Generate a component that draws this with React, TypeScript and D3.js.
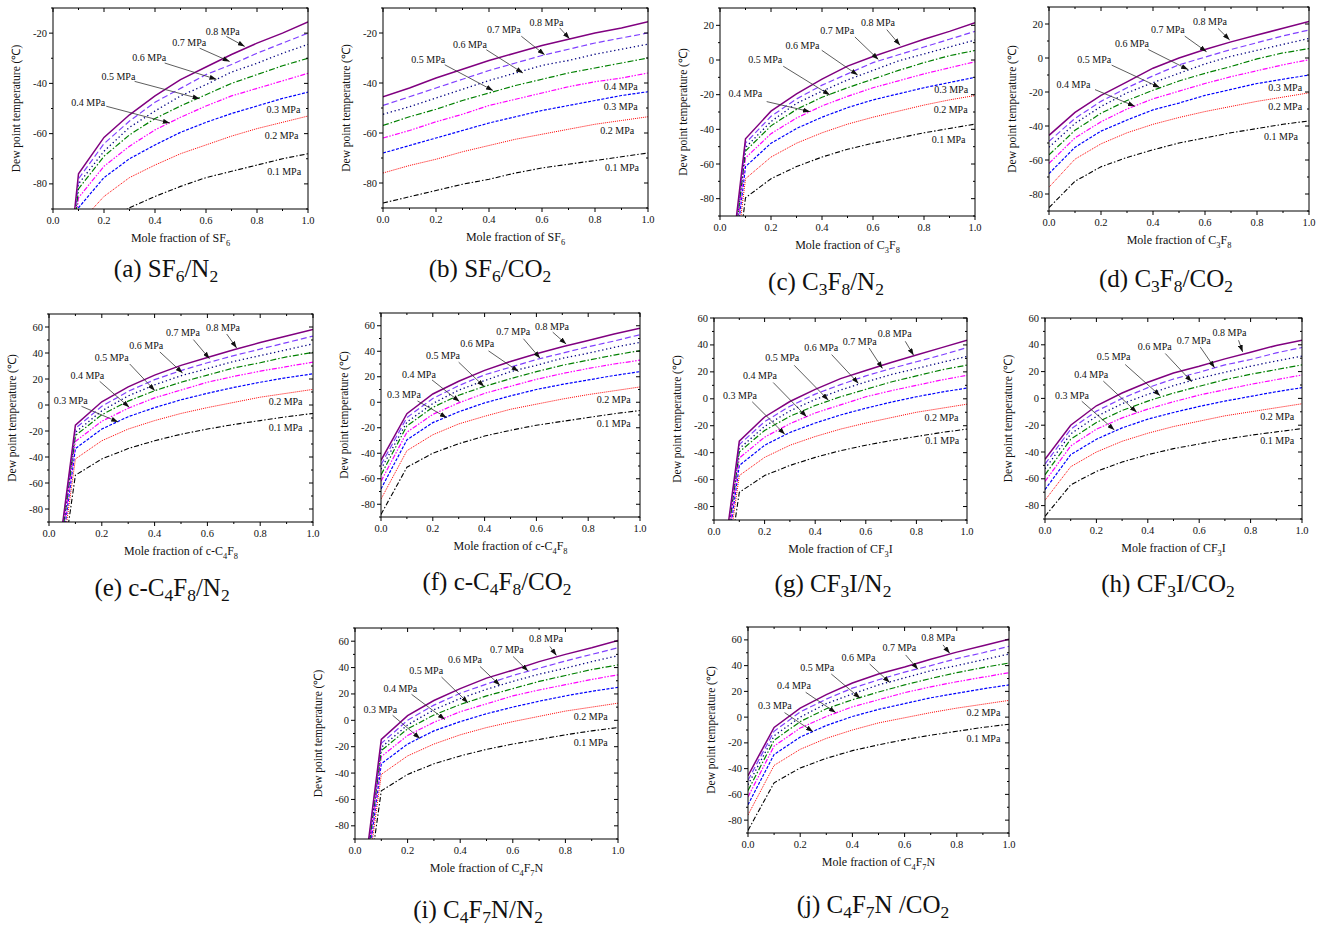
import React from "react";
import * as d3 from "d3";

// mole fraction of the insulating gas (x axis), same grid for every panel
const moleFraction = [0, 0.1, 0.2, 0.3, 0.4, 0.5, 0.6, 0.7, 0.8, 0.9, 1.0];
const pressures = ["0.1", "0.2", "0.3", "0.4", "0.5", "0.6", "0.7", "0.8"];

// dew point temperature (°C), one row per pressure 0.1 ... 0.8 MPa
const sf6N2 = [
  [-196, -105.5, -96, -89.5, -85, -81, -77.5, -75, -72.5, -70, -68],
  [-189, -96, -85, -77.5, -72.5, -68, -64.5, -61, -58, -55.5, -53],
  [-184, -89.5, -77.5, -70, -64.5, -59.5, -55.5, -52, -49, -46, -43.5],
  [-181, -85.5, -73, -65, -58.5, -53.5, -49, -45, -42, -39, -36],
  [-178, -82, -69, -60.5, -54, -49, -44.5, -40, -36.5, -33, -30],
  [-176, -80, -67, -57.5, -51, -45, -40.5, -35.5, -32, -28, -24.5],
  [-174, -78, -64, -55, -47.5, -42, -36.5, -32.5, -28, -24, -20],
  [-172, -76, -61.5, -52.5, -45, -38.5, -33.5, -28.5, -24, -20, -15.5],
];
const sf6CO2 = [
  [-88, -85.5, -83, -80.5, -78.5, -76, -74, -72.5, -71, -69.5, -68],
  [-76, -73, -70.5, -67.5, -65, -62.5, -60.5, -58.5, -56.5, -55, -53.5],
  [-68, -65, -62, -59, -56, -53.5, -51, -49, -47, -45, -43.5],
  [-62, -59, -55.5, -52.5, -49, -46.5, -44, -41.5, -39.5, -38, -36],
  [-57, -53.5, -50.5, -47, -44, -41, -38.5, -36, -34, -32, -30],
  [-52.5, -49.5, -46, -42.5, -39, -36, -33, -31, -28.5, -26.5, -24.5],
  [-49, -45.5, -42, -38.5, -35, -32, -29, -26.5, -24, -22, -20],
  [-45.5, -42, -38, -34.5, -31, -28, -25, -22.5, -20, -18, -15.5],
];
const c3f8N2 = [
  [-196, -79.5, -68.5, -61.5, -56, -51.5, -48, -45, -42, -39.5, -37],
  [-189, -68.5, -56, -48, -42, -37, -33, -29.5, -26, -23, -20.5],
  [-184, -61.5, -48, -39.5, -33, -27.5, -23, -19.5, -16, -13, -10],
  [-181, -56.5, -42.5, -33.5, -26.5, -21, -16, -12, -8, -4.5, -1],
  [-178, -52.5, -38, -28.5, -21.5, -16, -11, -6, -1.5, 2.5, 5.5],
  [-176, -50.5, -35.5, -25, -18, -11.5, -6, -0.5, 3.5, 7.5, 11.5],
  [-174, -48, -32.5, -22.5, -14.5, -8, -1.5, 3, 7.5, 12, 16.5],
  [-172, -45.5, -29.5, -19.5, -11, -3.5, 2, 7, 12, 16.5, 21.5],
];
const c3f8CO2 = [
  [-88, -72.5, -64, -58.5, -54, -50, -47, -44, -41.5, -39, -37],
  [-76, -59.5, -50.5, -44, -39, -35, -31.5, -28.5, -25.5, -23, -20.5],
  [-68, -52.5, -43, -36.5, -30.5, -26.5, -22, -18.5, -15, -12.5, -10],
  [-62, -47, -37.5, -30, -24, -19.5, -15, -11, -7.5, -4, -1],
  [-57, -42.5, -32.5, -25, -19, -13.5, -9, -5, -0.5, 3, 5.5],
  [-52.5, -38.5, -28.5, -20.5, -14.5, -9, -3.5, 1, 4.5, 8, 11.5],
  [-49, -35.5, -25.5, -17.5, -10.5, -4, 0.5, 5, 9, 13, 16.5],
  [-45.5, -32, -22, -14, -6, 0, 5, 9.5, 13.5, 17.5, 21.5],
];
const c4f8N2 = [
  [-196, -54, -41.5, -33.5, -27.5, -22.5, -18.5, -15, -12, -9, -6.5],
  [-189, -41.5, -27.5, -18.5, -12, -6.5, -2, 2, 6, 9, 12],
  [-184, -33.5, -18.5, -9, -2, 4, 9, 13.5, 17.5, 21, 24],
  [-181, -28, -12.5, -2.5, 5.5, 11.5, 17.5, 22, 26, 29.5, 33],
  [-178, -23.5, -7.5, 3, 11, 17.5, 23, 28.5, 32.5, 37, 40.5],
  [-176, -21, -4.5, 7, 15.5, 22.5, 28, 33.5, 38, 42.5, 47],
  [-174, -18, -1, 10.5, 19.5, 26.5, 32.5, 38, 43, 48, 53],
  [-172, -15.5, 2.5, 14, 23, 30.5, 36.5, 42.5, 48, 53, 58],
];
const c4f8CO2 = [
  [-88, -51, -40, -32.5, -26.5, -22, -18, -15, -12, -9, -6.5],
  [-76, -38, -25.5, -17, -11, -5.5, -1.5, 2.5, 6, 9, 12],
  [-68, -29.5, -16, -7.5, -0.5, 5, 10, 14, 17.5, 21, 24],
  [-62, -23.5, -9.5, -0.5, 7, 12.5, 18, 22.5, 26.5, 30, 33],
  [-57, -18.5, -4, 5.5, 12.5, 18.5, 24, 29, 33, 37, 40.5],
  [-52.5, -15.5, -1, 9.5, 17, 24, 29, 34.5, 38.5, 43, 47],
  [-49, -12, 3, 13, 21.5, 27.5, 33.5, 38.5, 43.5, 48, 53],
  [-45.5, -9, 6.5, 16.5, 25, 32, 38, 43.5, 48.5, 53.5, 58],
];
const cf3iN2 = [
  [-196, -69.5, -57, -49.5, -43.5, -38.5, -34.5, -31, -28, -25, -22.5],
  [-189, -57, -43.5, -34.5, -28, -22.5, -18, -14, -10, -7, -4],
  [-184, -49.5, -34.5, -25, -18, -12, -7, -2.5, 1.5, 5, 8],
  [-181, -44, -28.5, -18.5, -10.5, -4.5, 1.5, 6, 10, 14, 17.5],
  [-178, -39.5, -23.5, -13, -5, 1.5, 7, 12.5, 17, 21.5, 25],
  [-176, -37, -20.5, -9, -0.5, 6.5, 12.5, 18, 22.5, 27, 31.5],
  [-174, -34, -17, -5.5, 3.5, 10.5, 17, 22.5, 27.5, 32.5, 38],
  [-172, -31.5, -13.5, -2, 7, 15, 21, 27, 32.5, 38, 43.5],
];
const cf3iCO2 = [
  [-88, -64.5, -54.5, -47.5, -42, -37.5, -34, -30.5, -27.5, -25, -22.5],
  [-76, -51, -40, -32, -26, -21, -17, -13, -10, -7, -4],
  [-68, -42, -30.5, -22, -15.5, -10.5, -6, -2, 1.5, 5, 8],
  [-62, -35.5, -23, -14.5, -8, -2.5, 2.5, 6.5, 10.5, 14, 17.5],
  [-57, -30.5, -18, -9, -2, 4, 9, 14, 18, 21.5, 25],
  [-52.5, -26.5, -13.5, -4, 3, 9.5, 15, 19.5, 24, 28, 31.5],
  [-49, -23, -9.5, 0, 8, 14.5, 19.5, 25, 29, 34, 38],
  [-45.5, -20, -5.5, 4, 12, 19, 24, 29.5, 34.5, 39.5, 43.5],
];
const c4f7nN2 = [
  [-196, -53.5, -41, -33, -27, -22, -18, -14.5, -11, -8, -5.5],
  [-189, -41, -27, -18, -11, -5.5, -1, 3, 7, 10, 13],
  [-184, -33, -18, -8, -1, 5, 10, 14.5, 18.5, 22, 25],
  [-181, -27.5, -11.5, -1.5, 6.5, 12.5, 18.5, 23, 27, 31, 34.5],
  [-178, -23, -6.5, 4, 12, 18.5, 24, 29.5, 34, 38.5, 42],
  [-176, -20.5, -3.5, 8, 16.5, 23.5, 29.5, 35, 39.5, 44.5, 49],
  [-174, -17.5, 0, 11.5, 20.5, 27.5, 34, 39.5, 45, 50, 55],
  [-172, -14.5, 3.5, 15, 24, 32, 38, 44.5, 50, 55, 60.5],
];
const c4f7nCO2 = [
  [-88, -51, -39.5, -32, -26, -21.5, -17.5, -14, -11, -8, -5.5],
  [-76, -37.5, -25, -16.5, -10, -4.5, -0.5, 3.5, 7, 10, 13],
  [-68, -29, -15.5, -6.5, 0.5, 6, 10.5, 15, 18.5, 22, 25],
  [-62, -22.5, -8.5, 0.5, 8, 13.5, 19, 23.5, 27.5, 31, 34.5],
  [-57, -18, -3.5, 6.5, 13.5, 19.5, 25, 30, 34.5, 38.5, 42],
  [-52.5, -14.5, 0, 10.5, 18, 25, 30.5, 36, 40, 44.5, 49],
  [-49, -11, 4, 14, 22.5, 29, 35, 40, 45.5, 50, 55],
  [-45.5, -8, 7, 17.5, 26.5, 33.5, 39, 45, 50.5, 55.5, 60.5],
];

// curve labels: [pressure index, text x, text y, arrow tail x, tail y, tip x, tip y] in data units
type Lab = number[];
const labA: Lab[] = [
  [7, 0.599, -20.7, 0.68, -21.3, 0.752, -25.3], [6, 0.468, -25.3, 0.575, -26, 0.693, -31.3],
  [5, 0.311, -31, 0.438, -31.9, 0.641, -38.4], [4, 0.19, -38.7, 0.32, -39.2, 0.575, -46.1],
  [3, 0.072, -48.9, 0.209, -49.1, 0.458, -55.8], [2, 0.837, -51.8], [1, 0.83, -62.1], [0, 0.84, -76.6],
];
const labB: Lab[] = [
  [7, 0.553, -17.1, 0.667, -18, 0.704, -22.3], [6, 0.392, -20, 0.522, -21.3, 0.61, -28.7],
  [5, 0.264, -26, 0.39, -26.7, 0.528, -36], [4, 0.107, -31.8, 0.233, -32.7, 0.415, -43],
  [3, 0.833, -42.7], [2, 0.833, -50.7], [1, 0.82, -60.4], [0, 0.838, -75.1],
];
const labC: Lab[] = [
  [7, 0.553, 19.4, 0.654, 17.5, 0.706, 8.5], [6, 0.393, 15.2, 0.529, 13.3, 0.621, 0.3],
  [5, 0.257, 6.6, 0.399, 5.6, 0.54, -8.7], [4, 0.111, -2, 0.248, -3.6, 0.431, -20.2],
  [3, 0.033, -21.2, 0.183, -24, 0.353, -29.8], [2, 0.84, -18.9], [1, 0.838, -30.4], [0, 0.83, -47.6],
];
const labD: Lab[] = [
  [7, 0.554, 19.4, 0.65, 17.4, 0.695, 10.6], [6, 0.392, 14.9, 0.522, 12.9, 0.606, 3.7],
  [5, 0.254, 6.6, 0.382, 5, 0.535, -6.8], [4, 0.109, -2.8, 0.241, -4.2, 0.426, -17.4],
  [3, 0.029, -17.4, 0.177, -18.6, 0.33, -28.4], [2, 0.843, -19.4], [1, 0.843, -30.8], [0, 0.827, -48.1],
];
const labE: Lab[] = [
  [7, 0.595, 56.7, 0.673, 54.6, 0.711, 43.8], [6, 0.443, 52.8, 0.547, 50.3, 0.608, 35.6],
  [5, 0.304, 43.1, 0.42, 40.8, 0.506, 24.6], [4, 0.173, 34.1, 0.306, 31.5, 0.401, 11],
  [3, 0.081, 20.3, 0.192, 18.2, 0.304, -1.8], [2, 0.018, 0.8, 0.123, -1, 0.262, -13.1],
  [1, 0.832, -0.3], [0, 0.832, -19.7],
];
const labF: Lab[] = [
  [7, 0.595, 56.9, 0.663, 55, 0.715, 45.6], [6, 0.445, 52.4, 0.55, 49.8, 0.614, 34.6],
  [5, 0.306, 43, 0.415, 40.3, 0.531, 24.1], [4, 0.174, 33.8, 0.3, 31.4, 0.398, 12.3],
  [3, 0.081, 19.4, 0.197, 17.5, 0.303, 0.5], [2, 0.023, 3.1, 0.141, 1, 0.254, -12.1],
  [1, 0.833, -0.8], [0, 0.833, -19.2],
];
const labG: Lab[] = [
  [7, 0.647, 45.9, 0.756, 42.7, 0.789, 32.3], [6, 0.509, 40.2, 0.613, 37.8, 0.666, 22.5],
  [5, 0.357, 35.3, 0.465, 32.8, 0.571, 11.4], [4, 0.203, 27.9, 0.317, 24.9, 0.452, -1],
  [3, 0.115, 14.6, 0.234, 12.1, 0.366, -13.3], [2, 0.036, -0.5, 0.151, -2.2, 0.28, -26.4],
  [1, 0.832, -16.5], [0, 0.835, -33.9],
];
const labH: Lab[] = [
  [7, 0.652, 46.6, 0.753, 43.4, 0.769, 34.7], [6, 0.513, 40.9, 0.604, 38.4, 0.66, 22.8],
  [5, 0.361, 35.9, 0.468, 33.5, 0.571, 12.4], [4, 0.201, 28.5, 0.312, 25.3, 0.448, 2],
  [3, 0.114, 15.3, 0.227, 12.9, 0.357, -10.4], [2, 0.039, -0.1, 0.143, -2.1, 0.27, -23.6],
  [1, 0.838, -16.2], [0, 0.838, -34.1],
];
const labI: Lab[] = [
  [7, 0.662, 59.2, 0.741, 56, 0.766, 49.2], [6, 0.513, 51.2, 0.601, 48.4, 0.658, 37.3],
  [5, 0.354, 43.4, 0.475, 40.9, 0.551, 26.5], [4, 0.206, 35.3, 0.329, 32.8, 0.43, 13.2],
  [3, 0.108, 21.5, 0.215, 19.7, 0.342, 0.6], [2, 0.032, 5.9, 0.143, 3.8, 0.247, -13.8],
  [1, 0.832, 0.1], [0, 0.832, -19.6],
];
const labJ: Lab[] = [
  [7, 0.664, 59.5, 0.747, 56.1, 0.773, 49.6], [6, 0.515, 51.7, 0.604, 48.3, 0.651, 37.2],
  [5, 0.358, 43.9, 0.466, 41.3, 0.543, 26.8], [4, 0.2, 36.1, 0.319, 33.5, 0.43, 14.6],
  [3, 0.111, 21.9, 0.221, 19.3, 0.336, 3.5], [2, 0.038, 6.1, 0.14, 3.5, 0.249, -11.3],
  [1, 0.837, 0.9], [0, 0.837, -19.1],
];

type Seg = [string, number?];
const sub = (s: string): Seg => [s, 1];

const panels = [
  { id: "a", data: sf6N2, yd: [-90, -10], box: [53, 308, 8, 209], gas: [["SF"], sub("6")] as Seg[], cap: [["(a) SF"], sub("6"), ["/N"], sub("2")] as Seg[], cx: 166, cy: 277, labs: labA },
  { id: "b", data: sf6CO2, yd: [-90, -10], box: [383, 648, 8, 208], gas: [["SF"], sub("6")] as Seg[], cap: [["(b) SF"], sub("6"), ["/CO"], sub("2")] as Seg[], cx: 490, cy: 277, labs: labB },
  { id: "c", data: c3f8N2, yd: [-90, 30], box: [720, 975, 8, 216], gas: [["C"], sub("3"), ["F"], sub("8")] as Seg[], cap: [["(c) C"], sub("3"), ["F"], sub("8"), ["/N"], sub("2")] as Seg[], cx: 826, cy: 290, labs: labC },
  { id: "d", data: c3f8CO2, yd: [-90, 30], box: [1049, 1309, 7, 211], gas: [["C"], sub("3"), ["F"], sub("8")] as Seg[], cap: [["(d) C"], sub("3"), ["F"], sub("8"), ["/CO"], sub("2")] as Seg[], cx: 1166, cy: 287, labs: labD },
  { id: "e", data: c4f8N2, yd: [-90, 70], box: [49, 313, 314, 522], gas: [["c-C"], sub("4"), ["F"], sub("8")] as Seg[], cap: [["(e) c-C"], sub("4"), ["F"], sub("8"), ["/N"], sub("2")] as Seg[], cx: 162, cy: 596, labs: labE },
  { id: "f", data: c4f8CO2, yd: [-90, 70], box: [381, 640, 313, 517], gas: [["c-C"], sub("4"), ["F"], sub("8")] as Seg[], cap: [["(f) c-C"], sub("4"), ["F"], sub("8"), ["/CO"], sub("2")] as Seg[], cx: 497, cy: 590, labs: labF },
  { id: "g", data: cf3iN2, yd: [-90, 60], box: [714, 967, 318, 520], gas: [["CF"], sub("3"), ["I"]] as Seg[], cap: [["(g) CF"], sub("3"), ["I/N"], sub("2")] as Seg[], cx: 833, cy: 592, labs: labG },
  { id: "h", data: cf3iCO2, yd: [-90, 60], box: [1045, 1302, 318, 519], gas: [["CF"], sub("3"), ["I"]] as Seg[], cap: [["(h) CF"], sub("3"), ["I/CO"], sub("2")] as Seg[], cx: 1168, cy: 592, labs: labH },
  { id: "i", data: c4f7nN2, yd: [-90, 70], box: [355, 618, 628, 839], gas: [["C"], sub("4"), ["F"], sub("7"), ["N"]] as Seg[], cap: [["(i) C"], sub("4"), ["F"], sub("7"), ["N/N"], sub("2")] as Seg[], cx: 478, cy: 918, labs: labI },
  { id: "j", data: c4f7nCO2, yd: [-90, 70], box: [748, 1009, 627, 833], gas: [["C"], sub("4"), ["F"], sub("7"), ["N"]] as Seg[], cap: [["(j) C"], sub("4"), ["F"], sub("7"), ["N /CO"], sub("2")] as Seg[], cx: 873, cy: 913, labs: labJ },
];

// line style per pressure, 0.1 ... 0.8 MPa
const styles = [
  { c: "#000000", d: "5,2,1.5,2", w: 1.1 },
  { c: "#ff0000", d: "1,1", w: 1 },
  { c: "#0000ff", d: "3,1.5", w: 1.2 },
  { c: "#ff00ff", d: "5,1.5,1.5,1.5,1.5,1.5", w: 1.2 },
  { c: "#008000", d: "6,2,1.5,2", w: 1.2 },
  { c: "#000080", d: "1.3,2.7", w: 1.3 },
  { c: "#8040ff", d: "6,3", w: 1.2 },
  { c: "#800080", d: "", w: 1.5 },
];

const SERIF = "'Liberation Serif', 'Times New Roman', serif";

function Rich({ x, y, segs, fs, anchor = "start", shift = 0.3 }: { x: number; y: number; segs: Seg[]; fs: number; anchor?: string; shift?: number }) {
  const sh = fs * shift;
  let cur = 0;
  return (
    <text x={x} y={y} fontSize={fs} textAnchor={anchor} fontFamily={SERIF} fill="#111">
      {segs.map(([t, s], i) => {
        const target = s ? sh : 0;
        const dy = target - cur;
        cur = target;
        return (
          <tspan key={i} dy={dy} fontSize={s ? fs * 0.7 : fs}>
            {t}
          </tspan>
        );
      })}
    </text>
  );
}

function Panel({ p }: { p: (typeof panels)[number] }) {
  const [L, R, T, B] = p.box;
  const x = d3.scaleLinear().domain([0, 1]).range([L, R]);
  const y = d3.scaleLinear().domain(p.yd).range([B, T]);
  const line = d3
    .line<number>()
    .x((_, i) => x(moleFraction[i]))
    .y((d) => y(d));
  const yTicks = d3.range(p.yd[0], p.yd[1] + 0.1, 10);
  const xTicks = d3.range(0, 11).map((i) => i / 10);
  return (
    <g>
      <defs>
        <clipPath id={`clip-${p.id}`}>
          <rect x={L} y={T} width={R - L} height={B - T} />
        </clipPath>
      </defs>
      <g clipPath={`url(#clip-${p.id})`}>
        {p.data.map((row, k) => (
          <path key={k} d={line(row) || ""} fill="none" stroke={styles[k].c} strokeWidth={styles[k].w} strokeDasharray={styles[k].d} />
        ))}
      </g>
      <rect x={L} y={T} width={R - L} height={B - T} fill="none" stroke="#000" strokeWidth={1} />
      {yTicks.map((v) => {
        const major = v % 20 === 0;
        const len = major ? 4 : 2;
        return (
          <g key={v}>
            <line x1={L - len} x2={L} y1={y(v)} y2={y(v)} stroke="#000" />
            <line x1={R - len} x2={R} y1={y(v)} y2={y(v)} stroke="#000" />
            {major && v !== p.yd[0] && (
              <text x={L - 6} y={y(v) + 3.5} fontSize={10.5} textAnchor="end" fontFamily={SERIF} fill="#111">
                {v}
              </text>
            )}
          </g>
        );
      })}
      {xTicks.map((v, i) => {
        const major = i % 2 === 0;
        const len = major ? 4 : 2;
        return (
          <g key={i}>
            <line x1={x(v)} x2={x(v)} y1={B} y2={B + len} stroke="#000" />
            <line x1={x(v)} x2={x(v)} y1={T} y2={T + len} stroke="#000" />
            {major && (
              <text x={x(v)} y={B + 15} fontSize={10.5} textAnchor="middle" fontFamily={SERIF} fill="#111">
                {v.toFixed(1)}
              </text>
            )}
          </g>
        );
      })}
      <text
        transform={`translate(${L - 33},${(T + B) / 2}) rotate(-90)`}
        fontSize={11.5}
        textAnchor="middle"
        fontFamily={SERIF}
        fill="#111"
      >
        Dew point temperature (℃)
      </text>
      <Rich x={(L + R) / 2} y={B + 33} segs={[["Mole fraction of "], ...p.gas]} fs={12} anchor="middle" />
      <Rich x={p.cx} y={p.cy} segs={p.cap} fs={25} anchor="middle" shift={0.2} />
      {p.labs.map((l, i) => (
        <g key={i}>
          <text x={x(l[1])} y={y(l[2])} fontSize={10} fontFamily={SERIF} fill="#111">
            {pressures[l[0]]} MPa
          </text>
          {l.length > 3 && (
            <line x1={x(l[3])} y1={y(l[4])} x2={x(l[5])} y2={y(l[6])} stroke="#333" strokeWidth={0.8} markerEnd="url(#arrow)" />
          )}
        </g>
      ))}
    </g>
  );
}

export default function App() {
  return (
    <svg width={1324} height={929} style={{ position: "absolute", left: 0, top: 0, background: "#fff" }}>
      <defs>
        <marker id="arrow" markerUnits="userSpaceOnUse" markerWidth={7} markerHeight={5} refX={7} refY={2.5} orient="auto">
          <path d="M0,0 L7,2.5 L0,5 z" fill="#111" />
        </marker>
      </defs>
      {panels.map((p) => (
        <Panel key={p.id} p={p} />
      ))}
    </svg>
  );
}
